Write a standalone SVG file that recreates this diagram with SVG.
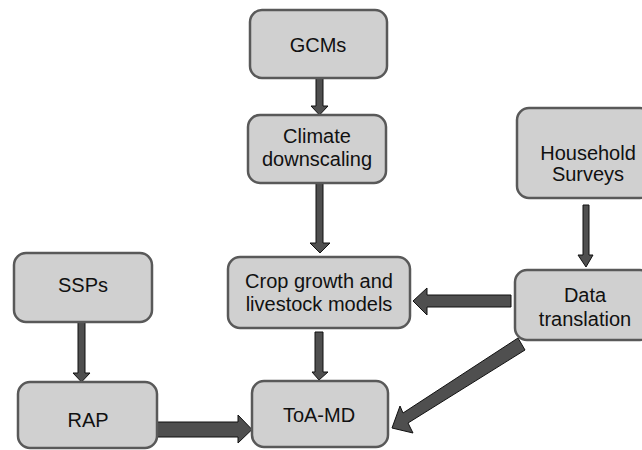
<svg xmlns="http://www.w3.org/2000/svg" width="642" height="450" viewBox="0 0 642 450">
<style>
.box{fill:#d0d0d0;stroke:#595959;stroke-width:2.5}
.arr{fill:#4f4f4f;stroke:#111;stroke-width:1}
text{font-family:"Liberation Sans",Arial,sans-serif;font-size:20px;fill:#111;text-anchor:middle}
</style>
<rect width="642" height="450" fill="#fff"/>
<g id="connectors">
<polygon class="arr" points="316,78 323,78 323,106 328,106 319.5,115 311,106 316,106"/>
<polygon class="arr" points="316,183 323,183 323,243 330,243 320,253 310,243 316,243"/>
<polygon class="arr" points="315,332 323,332 323,372 328,372 319,380 312,372 315,372"/>
<polygon class="arr" points="583,205 589,205 589,255 593,255 586,267 578,255 583,255"/>
<polygon class="arr" points="78,322 85,322 85,373 90,373 81.5,382 73,373 78,373"/>
<polygon class="arr" points="157,422 238,422 238,415 252,429.5 238,443 238,437 157,437"/>
<polygon class="arr" points="511,295 427,295 427,288 413,301 427,315 427,307 511,307"/>
<polygon class="arr" points="518,338 525,350 408,423 413,433 392,428 400,406 403,413"/>
</g>
<g id="gcms"><rect class="box" x="250" y="10" width="137" height="68" rx="12"/><text x="318" y="52">GCMs</text></g>
<g id="climate"><rect class="box" x="248" y="115" width="138" height="68" rx="12"/><text x="317" y="143">Climate</text><text x="317" y="166">downscaling</text></g>
<g id="crop"><rect class="box" x="228" y="257" width="182" height="71" rx="12"/><text x="319" y="288">Crop growth and</text><text x="319" y="311">livestock models</text></g>
<g id="toamd"><rect class="box" x="252" y="381" width="136" height="66" rx="12"/><text x="319" y="422">ToA-MD</text></g>
<g id="household"><rect class="box" x="517" y="108" width="135" height="90" rx="12"/><text x="588" y="160">Household</text><text x="588" y="181">Surveys</text></g>
<g id="data"><rect class="box" x="515" y="270" width="137" height="70" rx="12"/><text x="585" y="302">Data</text><text x="585" y="326">translation</text></g>
<g id="ssps"><rect class="box" x="14" y="253" width="138" height="69" rx="12"/><text x="83" y="292">SSPs</text></g>
<g id="rap"><rect class="box" x="18" y="382" width="139" height="66" rx="12"/><text x="88" y="427">RAP</text></g>
</svg>
